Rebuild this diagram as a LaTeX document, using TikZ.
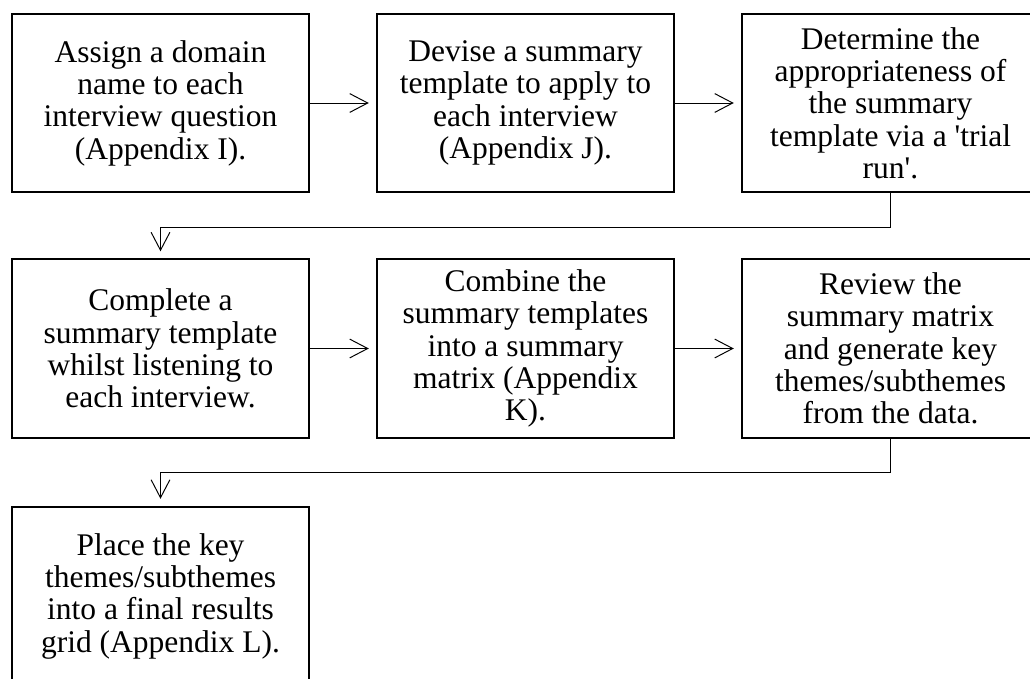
\documentclass[tikz,border=0pt]{standalone}
\usepackage{fontspec}
\setmainfont{Liberation Serif}
\usepackage{tikz}
\usetikzlibrary{arrows.meta}

\tikzset{
	stepbox/.style={draw, line width=1.4pt, minimum width=7.425cm, minimum height=4.45cm, align=center, inner sep=0pt, font=\fontsize{22.4pt}{23pt}\selectfont},
	flow/.style={line width=0.7pt, -{Straight Barb[length=0.45cm, width=0.47cm]}, shorten >=0.18cm}
}

\begin{document}
\begin{tikzpicture}[x=0.025cm, y=-0.025cm]
		%%%%% START %%%%%
		
		\useasboundingbox (0, 0) rectangle (1030, 678);
		\clip (0, 0) rectangle (1030, 678);
		
		\node[stepbox] (assign) at (160.5, 103) {Assign a domain\\name to each\\interview question\\(Appendix I).};
		\node[stepbox] (devise) at (525.5, 103) {Devise a summary\\template to apply to\\each interview\\(Appendix J).};
		\node[stepbox] (trial) at (890.5, 103) {Determine the\\appropriateness of\\the summary\\template via a \textquotesingle trial\\run\textquotesingle.};
		
		\node[stepbox] (complete) at (160.5, 348.5) {Complete a\\summary template\\whilst listening to\\each interview.};
		\node[stepbox] (combine) at (525.5, 348.5) {Combine the\\summary templates\\into a summary\\matrix (Appendix\\K).};
		\node[stepbox] (review) at (890.5, 348.5) {Review the\\summary matrix\\and generate key\\themes/subthemes\\from the data.};
		
		\node[stepbox] (place) at (160.5, 596) {Place the key\\themes/subthemes\\into a final results\\grid (Appendix L).};
		
		\draw[flow] (assign) -- (devise);
		\draw[flow] (devise) -- (trial);
		\draw[flow] (trial.south) -- ++(0, 34) -| (complete.north);
		
		\draw[flow] (complete) -- (combine);
		\draw[flow] (combine) -- (review);
		\draw[flow] (review.south) -- ++(0, 34) -| (place.north);
		
		%%%%% END %%%%%
\end{tikzpicture}
\end{document}
